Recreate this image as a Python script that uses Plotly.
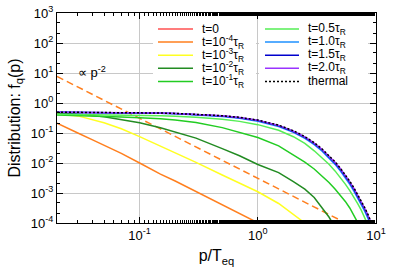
import plotly.graph_objects as go

# ---------------- data ----------------
p_grid = [0.02, 0.03, 0.05, 0.07, 0.1, 0.15, 0.2, 0.3, 0.5, 0.7, 1.0, 1.5, 2.0,
          2.5, 3.0, 3.5, 4.0, 4.5, 5.0, 5.5, 6.0, 6.5, 7.0, 7.5, 8.0, 8.5, 9.0, 9.5, 10.0]

f_thermal = [0.495, 0.4925, 0.4875, 0.4825, 0.475, 0.4626, 0.450, 0.4256, 0.3775,
             0.3318, 0.2689, 0.1824, 0.1192, 0.0759, 0.0474, 0.0293, 0.0180, 0.0110,
             0.00669, 0.00407, 0.00247, 0.00150, 0.000911, 0.000553, 0.000335,
             0.000203, 0.000123, 0.0000749, 0.0000454]
f_t20 = [0.495, 0.492, 0.487, 0.482, 0.474, 0.461, 0.448, 0.423, 0.374, 0.328, 0.265,
         0.179, 0.116, 0.0738, 0.0459, 0.0283, 0.0173, 0.0105, 0.00640, 0.00388,
         0.00235, 0.00142, 0.000862, 0.000522, 0.000316, 0.000191, 0.000115,
         0.0000700, 0.0000424]
f_t15 = [0.494, 0.491, 0.486, 0.480, 0.472, 0.459, 0.445, 0.419, 0.369, 0.323, 0.259,
         0.174, 0.112, 0.0712, 0.0441, 0.0271, 0.0165, 0.0100, 0.00606, 0.00366,
         0.00221, 0.00133, 0.000805, 0.000486, 0.000293, 0.000177, 0.000106,
         0.0000645, 0.0000390]
f_t10 = [0.493, 0.489, 0.483, 0.477, 0.468, 0.453, 0.438, 0.410, 0.358, 0.311, 0.247,
         0.164, 0.105, 0.0660, 0.0406, 0.0247, 0.0149, 0.00900, 0.00540, 0.00323,
         0.00194, 0.00116, 0.000697, 0.000418, 0.000251, 0.000150, 0.0000900,
         0.0000540, 0.0000324]
f_t05 = [0.42, 0.415, 0.405, 0.396, 0.387, 0.375, 0.362, 0.336, 0.285, 0.244, 0.190,
         0.123, 0.0752, 0.0449, 0.0255, 0.0150, 0.00910, 0.00545, 0.00325, 0.00198,
         0.00120, 0.000735, 0.000440, 0.000268, 0.000160, 0.0000970, 0.0000590,
         0.0000360, 0.0000220]
p_t01 = [0.02, 0.03, 0.05, 0.07, 0.1, 0.15, 0.2, 0.3, 0.5, 0.7, 1.0, 1.5, 2.0, 2.5,
         3.0, 3.5, 4.0, 4.5, 5.0, 5.5, 6.0, 6.5, 7.0, 7.5]
f_t01 = [0.40, 0.385, 0.36, 0.34, 0.32, 0.30, 0.27, 0.224, 0.151, 0.107, 0.0708,
         0.0372, 0.0191, 0.0107, 0.00631, 0.00372, 0.00224, 0.00135, 0.000851,
         0.000525, 0.000316, 0.000186, 0.000112, 0.0000631]
p_t1e2 = [0.02, 0.03, 0.05, 0.07, 0.1, 0.15, 0.2, 0.3, 0.5, 0.7, 1.0, 1.5, 2.0, 2.5,
          3.0, 3.5, 4.0, 4.5]
f_t1e2 = [0.468, 0.427, 0.347, 0.282, 0.219, 0.150, 0.108, 0.0676, 0.0302, 0.0174,
          0.00891, 0.00479, 0.00240, 0.00135, 0.000708, 0.000302, 0.000158, 0.0000708]
p_t1e3 = [0.02, 0.03, 0.05, 0.07, 0.1, 0.15, 0.2, 0.3, 0.5, 0.7, 1.0, 1.5, 2.0, 2.5, 3.0]
f_t1e3 = [0.427, 0.372, 0.219, 0.138, 0.0759, 0.0372, 0.0214, 0.0105, 0.00398,
          0.00209, 0.00110, 0.000447, 0.000200, 0.000100, 0.0000501]
p_t1e4 = [0.02, 0.025, 0.03, 0.04, 0.05, 0.07, 0.1, 0.15, 0.2, 0.3, 0.5, 0.7, 1.0, 1.2]
f_t1e4 = [0.214, 0.145, 0.100, 0.0589, 0.0398, 0.0209, 0.0100, 0.00427, 0.00251,
          0.00112, 0.000417, 0.000214, 0.000107, 0.0000708]
p_t0 = []          # t=0: no quarks yet, nothing drawn inside the plot
f_t0 = []
p_powerlaw = [0.02, 10.0]
f_powerlaw = [7.7, 0.0000308]

y_tickvals = [1e-4, 1e-3, 1e-2, 1e-1, 1e0, 1e1, 1e2, 1e3]
y_ticktext = ["10<sup>-4</sup>", "10<sup>-3</sup>", "10<sup>-2</sup>", "10<sup>-1</sup>",
              "10<sup>0</sup>", "10<sup>1</sup>", "10<sup>2</sup>", "10<sup>3</sup>"]
x_tickvals = [0.1, 1, 10]
x_ticktext = ["10<sup>-1</sup>", "10<sup>0</sup>", "10<sup>1</sup>"]

names_col1 = ["t=0", "t=10<sup>-4</sup>τ<sub>R</sub>", "t=10<sup>-3</sup>τ<sub>R</sub>",
              "t=10<sup>-2</sup>τ<sub>R</sub>", "t=10<sup>-1</sup>τ<sub>R</sub>"]
names_col2 = ["t=0.5τ<sub>R</sub>", "t=1.0τ<sub>R</sub>", "t=1.5τ<sub>R</sub>",
              "t=2.0τ<sub>R</sub>", "thermal"]

# ---------------- styles ----------------
FONT = "Liberation Sans, Arial, sans-serif"
C = {"t0": "#ff5050", "t1e4": "#ff7f1e", "t1e3": "#ffff22", "t1e2": "#228b22",
     "t01": "#22cc22", "t05": "#55ee55", "t10": "#1e90ff", "t15": "#0000cd",
     "t20": "#9933ff", "th": "#000000"}
THERMAL_DASH = "2px,2px"

fig = go.Figure()

def add(x, y, name, color, dash="solid", width=1.5):
    fig.add_trace(go.Scatter(x=x, y=y, mode="lines", name=name, showlegend=False,
                             line=dict(color=color, width=width, dash=dash)))

add(p_powerlaw, f_powerlaw, "∝ p^-2", C["t1e4"], dash="7px,4px")
add(p_t0, f_t0, names_col1[0], C["t0"])
add(p_t1e4, f_t1e4, names_col1[1], C["t1e4"])
add(p_t1e3, f_t1e3, names_col1[2], C["t1e3"])
add(p_t1e2, f_t1e2, names_col1[3], C["t1e2"])
add(p_t01, f_t01, names_col1[4], C["t01"])
add(p_grid, f_t05, names_col2[0], C["t05"])
add(p_grid, f_t10, names_col2[1], C["t10"])
add(p_grid, f_t15, names_col2[2], C["t15"])
add(p_grid, f_t20, names_col2[3], C["t20"])
add(p_grid, f_thermal, names_col2[4], C["th"], dash=THERMAL_DASH)

fig.add_annotation(x=-1.40, y=1.02, xref="x", yref="y", text="∝ p<sup>-2</sup>",
                   showarrow=False, font=dict(size=13, color="black", family=FONT))

# ---------------- hand-made key (two columns, gnuplot-like spacing) ----------------
L, R, T, B = 57, 376, 13.3, 223.3
def px(xp): return (xp - L) / (R - L)
def py(yp): return (B - yp) / (B - T)

fig.add_shape(type="rect", xref="paper", yref="paper", x0=px(153), x1=px(256),
              y0=py(90), y1=py(18), fillcolor="white", line_width=0, layer="above")
fig.add_shape(type="rect", xref="paper", yref="paper", x0=px(259), x1=px(368),
              y0=py(90), y1=py(18), fillcolor="white", line_width=0, layer="above")

col1_colors = [C["t0"], C["t1e4"], C["t1e3"], C["t1e2"], C["t01"]]
col2_colors = [C["t05"], C["t10"], C["t15"], C["t20"], C["th"]]
col2_dash = ["solid", "solid", "solid", "solid", THERMAL_DASH]
for col, (names, colors, dashes, lx0, lx1, tx) in enumerate([
        (names_col1, col1_colors, ["solid"] * 5, 158, 193, 200),
        (names_col2, col2_colors, col2_dash, 265, 299, 306)]):
    for i, (nm, cl, ds) in enumerate(zip(names, colors, dashes)):
        yrow = 29.3 + 13.1 * i
        fig.add_shape(type="line", xref="paper", yref="paper", x0=px(lx0), x1=px(lx1),
                      y0=py(yrow), y1=py(yrow), line=dict(color=cl, width=1.5, dash=ds),
                      layer="above")
        fig.add_annotation(xref="paper", yref="paper", x=px(tx), y=py(yrow),
                           xanchor="left", yanchor="middle", text=nm, showarrow=False,
                           font=dict(size=12, color="black", family=FONT))

axis_common = dict(type="log", showline=True, linecolor="black", linewidth=1,
                   mirror="allticks", ticks="inside", ticklen=6, tickcolor="black",
                   showgrid=True, gridcolor="#c8c8c8", gridwidth=1, zeroline=False,
                   automargin=False, ticklabeloverflow="allow",
                   tickfont=dict(size=13, color="black", family=FONT),
                   minor=dict(ticks="inside", ticklen=3, tickcolor="black", showgrid=False))

fig.update_xaxes(**axis_common, range=[-1.69897, 1], tickvals=x_tickvals,
                 ticktext=x_ticktext,
                 title=dict(text="p/T<sub>eq</sub>", font=dict(size=16, family=FONT, color="black"),
                            standoff=8))
fig.update_yaxes(**axis_common, range=[-4, 3], tickvals=y_tickvals, ticktext=y_ticktext,
                 title=dict(text="Distribution: f<sub>q</sub>(p)",
                            font=dict(size=16, family=FONT, color="black"), standoff=6))

fig.update_layout(
    width=399, height=279,
    margin=dict(l=L, r=399 - R, t=13, b=279 - 223),
    plot_bgcolor="white", paper_bgcolor="white",
    font=dict(family=FONT, color="black"),
    showlegend=False,
)

fig.write_html("out.html", config={"displayModeBar": False},
               post_script="document.body.style.margin='0';document.body.style.overflow='hidden';")
